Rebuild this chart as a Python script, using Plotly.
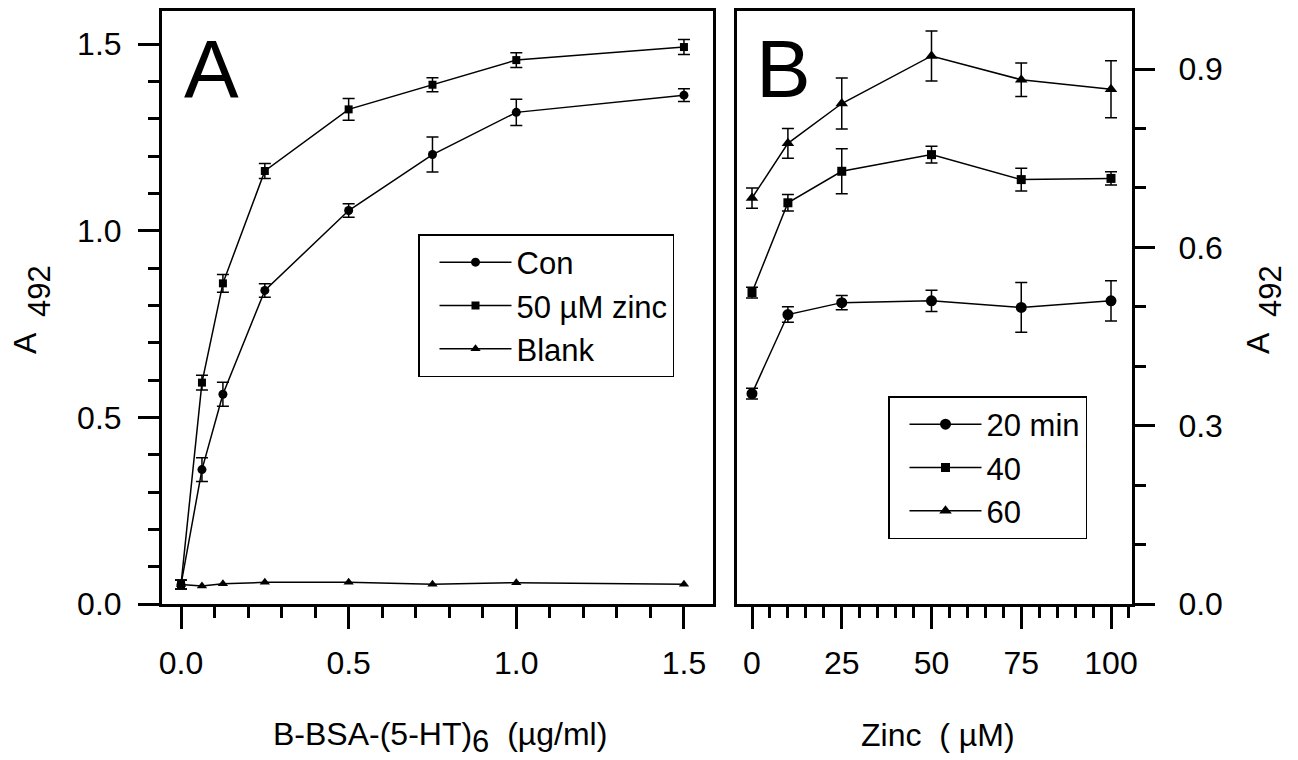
import plotly.graph_objects as go

# Panel A: B-BSA-(5-HT)6 concentration series (µg/ml)
conc_a = [0, 0.0625, 0.125, 0.25, 0.5, 0.75, 1.0, 1.5]
con = [0.052, 0.360, 0.562, 0.840, 1.054, 1.204, 1.317, 1.363]
con_err = [0.012, 0.032, 0.032, 0.018, 0.018, 0.047, 0.035, 0.017]
zinc50 = [0.052, 0.593, 0.859, 1.160, 1.325, 1.391, 1.457, 1.492]
zinc50_err = [0.012, 0.020, 0.024, 0.020, 0.029, 0.019, 0.020, 0.020]
blank = [0.052, 0.048, 0.054, 0.058, 0.058, 0.053, 0.057, 0.053]

# Panel B: zinc concentration series (µM) at three incubation times
zinc_b = [0, 10, 25, 50, 75, 100]
min20 = [0.354, 0.487, 0.507, 0.510, 0.499, 0.510]
min20_err = [0.009, 0.013, 0.012, 0.018, 0.042, 0.034]
min40 = [0.524, 0.675, 0.728, 0.756, 0.714, 0.716]
min40_err = [0.009, 0.014, 0.038, 0.014, 0.019, 0.011]
min60 = [0.683, 0.775, 0.842, 0.922, 0.882, 0.866]
min60_err = [0.017, 0.025, 0.043, 0.042, 0.028, 0.048]

ticks_a_x = [0, 0.5, 1.0, 1.5]
ticks_a_y = [0, 0.5, 1.0, 1.5]
ticks_b_x = [0, 25, 50, 75, 100]
ticks_b_y = [0, 0.3, 0.6, 0.9]

FONT = "Liberation Sans, Arial, sans-serif"
W, H = 1298, 760


def px_x(p):
    return p / W


def px_y(p):
    return 1 - p / H


def err(vals, width):
    return dict(type="data", array=vals, visible=True, color="black",
                thickness=1.5, width=width)


def series(x, y, e, name, symbol, size, xa, ya, legend, width):
    kw = dict(x=x, y=y, name=name, mode="lines+markers", xaxis=xa, yaxis=ya,
              legend=legend,
              line=dict(color="black", width=1.5),
              marker=dict(symbol=symbol, size=size, color="black"))
    if e is not None:
        kw["error_y"] = err(e, width)
    return go.Scatter(**kw)


fig = go.Figure()
fig.add_trace(series(conc_a, con, con_err, "Con", "circle", 9, "x", "y", "legend", 6))
fig.add_trace(series(conc_a, zinc50, zinc50_err, "50 µM zinc", "square", 8, "x", "y", "legend", 6))
fig.add_trace(series(conc_a, blank, None, "Blank", "triangle-up", 9, "x", "y", "legend", 6))
fig.add_trace(series(zinc_b, min20, min20_err, "20 min", "circle", 11, "x2", "y2", "legend2", 6))
fig.add_trace(series(zinc_b, min40, min40_err, "40", "square", 9, "x2", "y2", "legend2", 6))
fig.add_trace(series(zinc_b, min60, min60_err, "60", "triangle-up", 11, "x2", "y2", "legend2", 6))

tick_font = dict(family=FONT, size=32, color="black")
axis_common = dict(showline=True, linecolor="black", linewidth=3, mirror=True,
                   ticks="outside", tickcolor="black", tickwidth=2.5,
                   showgrid=False, zeroline=False, tickfont=tick_font,
                   automargin=False)

# pixel anchors of the two plot boxes
a_left, a_right, b_left, b_right, top, bottom = 162, 713, 737, 1132, 11, 604
xa0, xa_scale = 181, 335.3      # x = 0 position, px per unit
ya_scale = 373.3
xb0, xb_scale = 752, 3.59
yb_scale = 594.4


def minor(dtick):
    return dict(dtick=dtick, ticklen=11, tickwidth=2.5, tickcolor="black",
                ticks="outside", showgrid=False)


legend_style = dict(xanchor="left", yanchor="top", bgcolor="white",
                    bordercolor="black", borderwidth=1.5,
                    font=dict(family=FONT, size=31, color="black"),
                    itemwidth=72, indentation=15, tracegroupgap=0)

fig.update_layout(
    width=W, height=H,
    margin=dict(l=0, r=0, t=0, b=0, autoexpand=False),
    paper_bgcolor="white", plot_bgcolor="white",
    font=dict(family=FONT, size=32, color="black"),
    xaxis=dict(domain=[px_x(a_left), px_x(a_right)],
               range=[(a_left - xa0) / xa_scale, (a_right - xa0) / xa_scale],
               tickvals=ticks_a_x, ticktext=["0.0", "0.5", "1.0", "1.5"],
               ticklen=22, ticklabelstandoff=7, anchor="y",
               minor=minor(0.1), **axis_common),
    yaxis=dict(domain=[px_y(bottom), px_y(top)],
               range=[0, (bottom - top) / ya_scale],
               tickvals=ticks_a_y, ticktext=["0.0", "0.5", "1.0", "1.5"],
               ticklen=21, ticklabelstandoff=10, anchor="x",
               minor=minor(0.1), **axis_common),
    xaxis2=dict(domain=[px_x(b_left), px_x(b_right)],
                range=[(b_left - xb0) / xb_scale, (b_right - xb0) / xb_scale],
                tickvals=ticks_b_x, ticklen=22, ticklabelstandoff=7, anchor="y2",
                minor=minor(5), **axis_common),
    yaxis2=dict(domain=[px_y(bottom), px_y(top)], side="right",
                range=[0, (bottom - top) / yb_scale],
                tickvals=ticks_b_y, ticktext=["0.0", "0.3", "0.6", "0.9"],
                ticklen=20, ticklabelstandoff=17, anchor="x2",
                minor=minor(0.1), **axis_common),
    legend=dict(x=px_x(418), y=px_y(234), **legend_style),
    legend2=dict(x=px_x(888), y=px_y(396), **legend_style),
    showlegend=True,
)

ann = []
# panel letters
ann.append(dict(text="A", x=px_x(211), y=px_y(68), font=dict(family=FONT, size=82)))
ann.append(dict(text="B", x=px_x(783), y=px_y(68), font=dict(family=FONT, size=82)))
# x-axis titles
ann.append(dict(text="B-BSA-(5-HT)<sub><span style='font-size:31px'>6</span></sub>  (µg/ml)",
                x=px_x(440), y=px_y(737), font=dict(family=FONT, size=32)))
ann.append(dict(text="Zinc  ( µM)", x=px_x(938), y=px_y(735), font=dict(family=FONT, size=32)))
# y-axis titles (A with subscript 492), left and right
for ax_x, sub_x in ((25, 39), (1258, 1270)):
    ann.append(dict(text="A", x=px_x(ax_x), y=px_y(343), textangle=-90,
                    font=dict(family=FONT, size=32)))
    ann.append(dict(text="492", x=px_x(sub_x), y=px_y(291), textangle=-90,
                    font=dict(family=FONT, size=31)))

for a in ann:
    a.update(xref="paper", yref="paper", showarrow=False,
             xanchor="center", yanchor="middle")
    a["font"]["color"] = "black"
fig.update_layout(annotations=ann)

fig.write_html("out.html")
